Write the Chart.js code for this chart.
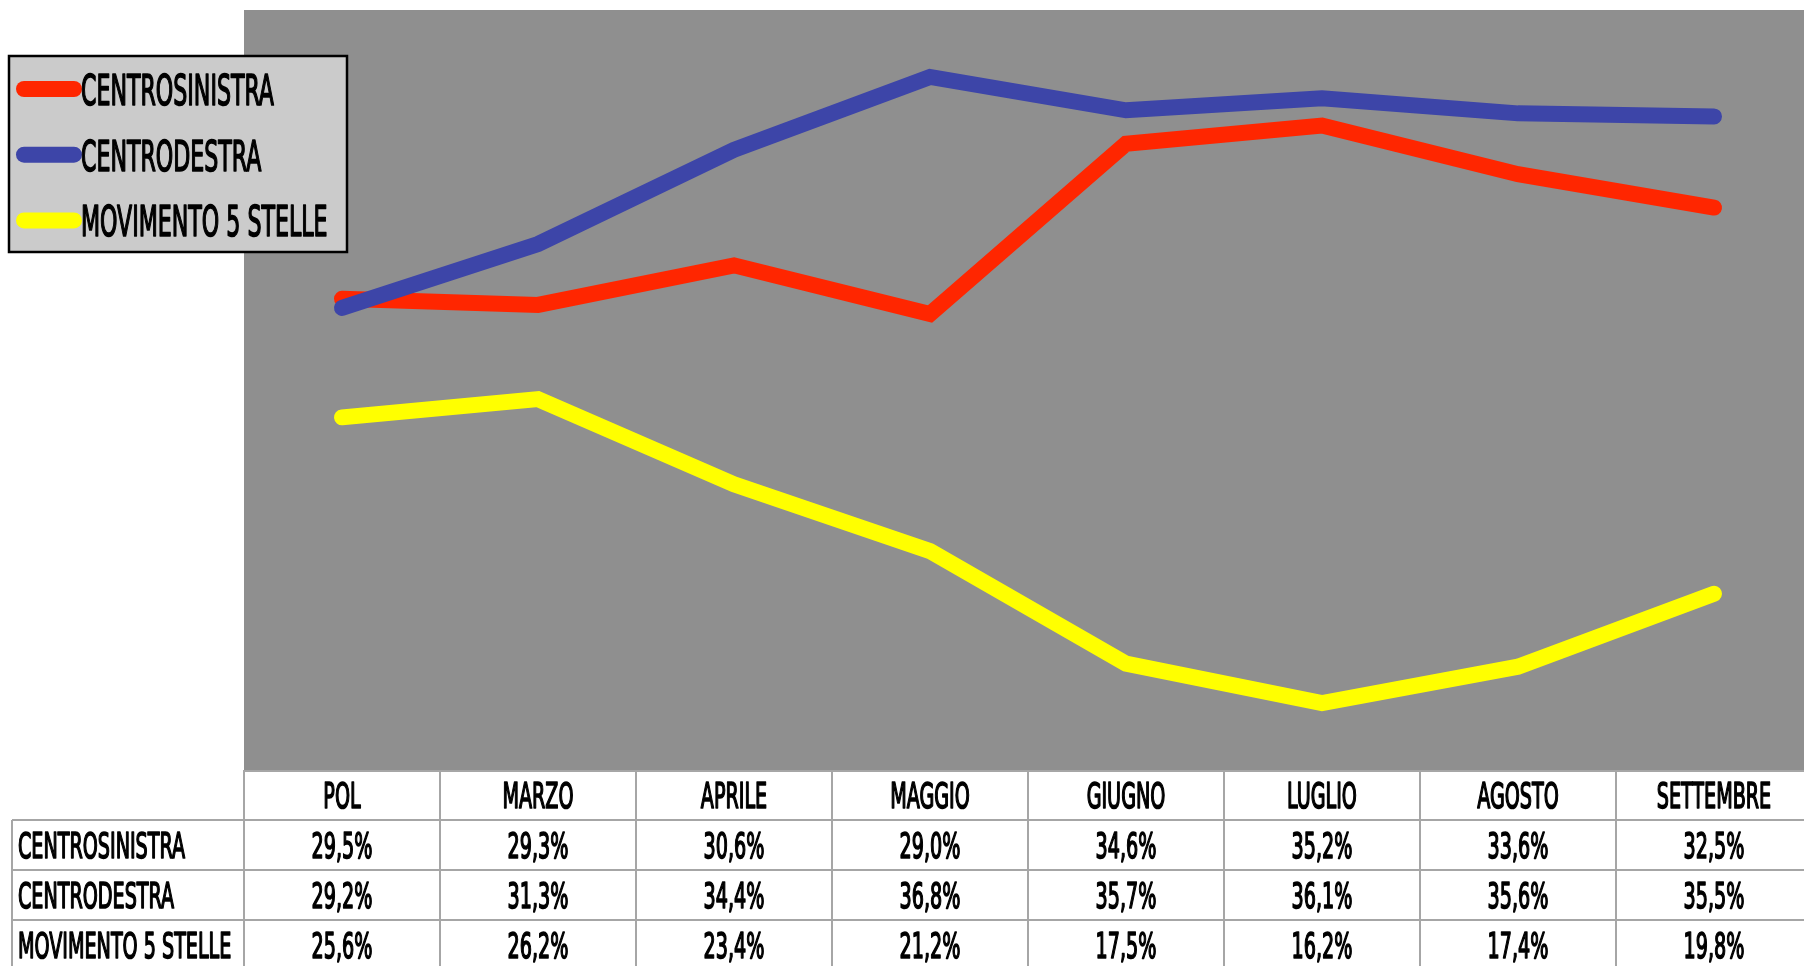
<!DOCTYPE html>
<html>
<head>
<meta charset="utf-8">
<script src="https://cdn.jsdelivr.net/npm/chart.js@4/dist/chart.umd.min.js"></script>
<style>
  html, body { margin: 0; padding: 0; background: #fff; overflow: hidden; }
  #wrap { width: 1804px; height: 966px; overflow: hidden; position: relative; }
  #wrap canvas { position: absolute; left: 0; top: 0; }
</style>
</head>
<body>
<div id="wrap"><canvas id="chart" width="1812" height="966"></canvas></div>
<script>
const months = ['POL', 'MARZO', 'APRILE', 'MAGGIO', 'GIUGNO', 'LUGLIO', 'AGOSTO', 'SETTEMBRE'];
const seriesNames = ['CENTROSINISTRA', 'CENTRODESTRA', 'MOVIMENTO 5 STELLE'];
const centrosinistra = [29.5, 29.3, 30.6, 29.0, 34.6, 35.2, 33.6, 32.5];
const centrodestra = [29.2, 31.3, 34.4, 36.8, 35.7, 36.1, 35.6, 35.5];
const movimento5s = [25.6, 26.2, 23.4, 21.2, 17.5, 16.2, 17.4, 19.8];

const colors = ['#ff2600', '#3d45a8', '#ffff00'];
const FONT = '"Liberation Sans Narrow", "DejaVu Sans Condensed", "Liberation Sans", sans-serif';

function fmt(v) {
  return v.toFixed(1).replace('.', ',') + '%';
}

// text squeezed horizontally and slightly thickened, closer to the condensed medium face of the original
function squeezedText(ctx, text, x, y, align, sx) {
  ctx.save();
  ctx.translate(x, y);
  ctx.scale(sx, 1);
  ctx.textAlign = align;
  ctx.textBaseline = 'alphabetic';
  ctx.fillText(text, 0, 0);
  ctx.strokeStyle = ctx.fillStyle;
  ctx.lineWidth = 1.6;
  ctx.lineJoin = 'round';
  ctx.strokeText(text, 0, 0);
  ctx.restore();
}

const backgroundPlugin = {
  id: 'plotBackground',
  beforeDraw(chart) {
    const { ctx, chartArea } = chart;
    ctx.save();
    ctx.fillStyle = '#8f8f8f';
    ctx.fillRect(chartArea.left, chartArea.top, chartArea.right - chartArea.left, chartArea.bottom - chartArea.top);
    ctx.restore();
  }
};

const tableAndLegendPlugin = {
  id: 'tableAndLegend',
  afterDraw(chart) {
    const { ctx, chartArea } = chart;
    const xs = chart.scales.x;
    const colW = (chartArea.right - chartArea.left) / months.length;
    const rowH = 50;
    const top = chartArea.bottom;
    const datasets = chart.data.datasets;

    // table grid
    ctx.save();
    ctx.strokeStyle = '#a6a6a6';
    ctx.lineWidth = 2;
    ctx.beginPath();
    ctx.moveTo(chartArea.left, top + 1);
    ctx.lineTo(chartArea.right, top + 1);
    for (let r = 1; r <= 4; r++) {
      ctx.moveTo(12, top + r * rowH);
      ctx.lineTo(chartArea.right, top + r * rowH);
    }
    ctx.moveTo(12, top + rowH);
    ctx.lineTo(12, top + 4 * rowH);
    for (let c = 0; c <= months.length; c++) {
      const x = chartArea.left + c * colW;
      ctx.moveTo(x, top);
      ctx.lineTo(x, top + 4 * rowH);
    }
    ctx.stroke();

    // table text
    ctx.fillStyle = '#000';
    ctx.font = '35px ' + FONT;
    const tsx = 167 / ctx.measureText('CENTROSINISTRA').width;
    months.forEach((m, i) => {
      squeezedText(ctx, m, xs.getPixelForValue(i), top + 38, 'center', tsx);
    });
    datasets.forEach((ds, r) => {
      const base = top + (r + 1) * rowH + 38;
      squeezedText(ctx, ds.label, 18, base, 'left', tsx);
      ds.data.forEach((v, i) => {
        squeezedText(ctx, fmt(v), xs.getPixelForValue(i), base, 'center', tsx);
      });
    });

    // legend box
    ctx.fillStyle = '#cbcbcb';
    ctx.fillRect(8, 55, 340, 198);
    ctx.strokeStyle = '#000';
    ctx.lineWidth = 2.5;
    ctx.strokeRect(9, 56, 338, 196);

    ctx.font = '42px ' + FONT;
    const lsx = 193 / ctx.measureText('CENTROSINISTRA').width;
    datasets.forEach((ds, i) => {
      const cy = 89 + i * 65.7;
      ctx.strokeStyle = ds.borderColor;
      ctx.lineWidth = 16;
      ctx.lineCap = 'round';
      ctx.beginPath();
      ctx.moveTo(24, cy);
      ctx.lineTo(74, cy);
      ctx.stroke();
      ctx.fillStyle = '#000';
      squeezedText(ctx, ds.label, 81, cy + 16, 'left', lsx);
    });
    ctx.restore();
  }
};

const seriesValues = [centrosinistra, centrodestra, movimento5s];
const drawOrder = [1, 0, 2];

new Chart(document.getElementById('chart'), {
  type: 'line',
  data: {
    labels: months,
    datasets: seriesNames.map((name, i) => ({
      label: name,
      data: seriesValues[i],
      borderColor: colors[i],
      backgroundColor: colors[i],
      borderWidth: 16,
      borderCapStyle: 'round',
      borderJoinStyle: 'miter',
      pointRadius: 0,
      pointHoverRadius: 0,
      tension: 0,
      fill: false,
      order: drawOrder[i]
    }))
  },
  options: {
    responsive: false,
    animation: false,
    layout: { padding: { left: 244, top: 10, right: 0, bottom: 196 } },
    plugins: {
      legend: { display: false },
      tooltip: { enabled: false }
    },
    scales: {
      x: { display: false, offset: true },
      y: { display: false, min: 14, max: 39 }
    }
  },
  plugins: [backgroundPlugin, tableAndLegendPlugin]
});
</script>
</body>
</html>
